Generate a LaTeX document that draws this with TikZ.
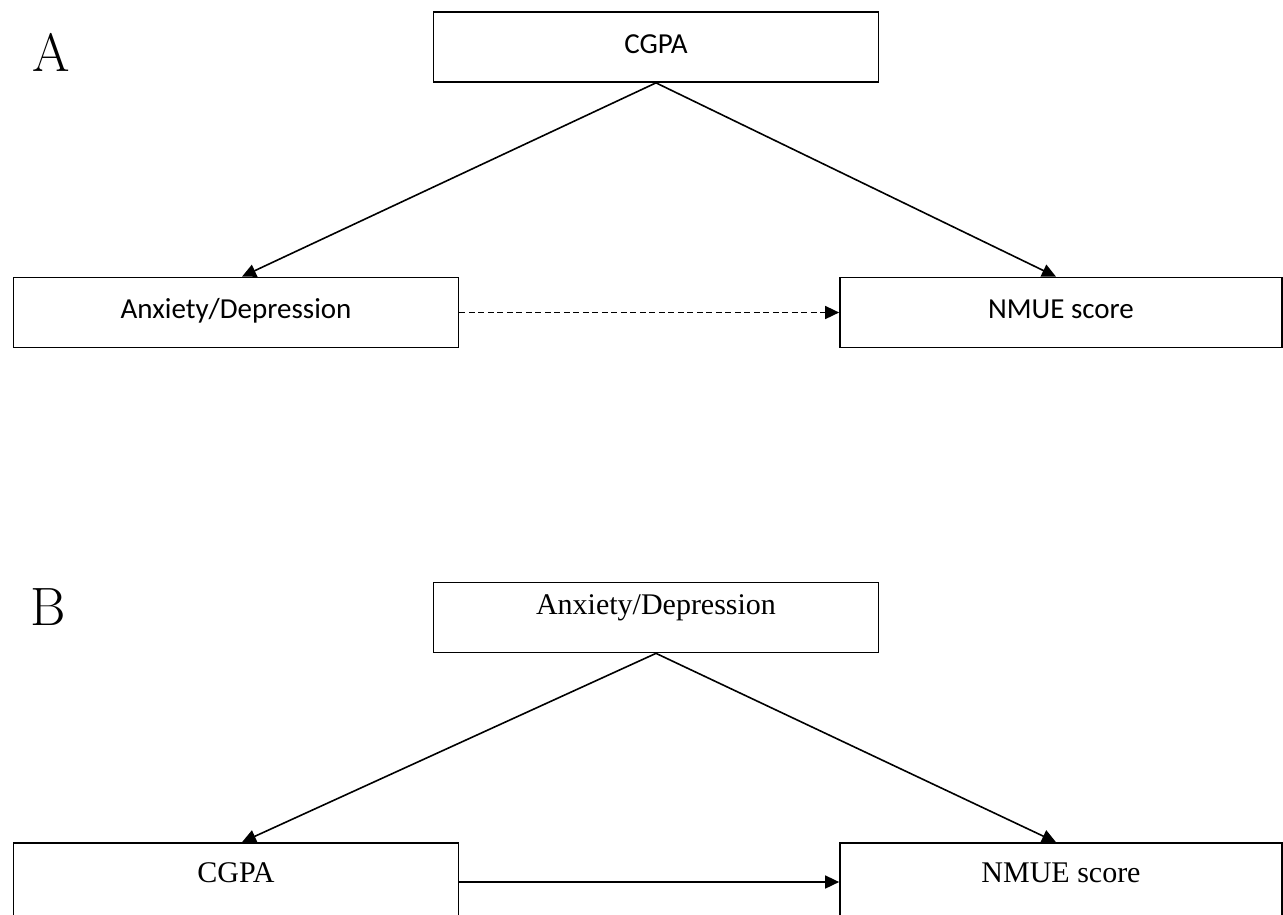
\documentclass[tikz,border=0pt]{standalone}
\usepackage{fontspec}
\usetikzlibrary{arrows.meta}
\newfontfamily\boxsans{Carlito}
\newfontfamily\boxserif{Liberation Serif}

\begin{document}
\begin{tikzpicture}[
    x=1pt, y=-1pt,
    >={Triangle[length=14pt, width=13pt]},
    % Define styles for the elements
    panel label/.style={
        font=\fontsize{54}{56}\selectfont,
        inner sep=0pt
    },
    var box/.style={
        rectangle,
        draw=black,
        line width=1.7pt,
        minimum width=445pt,
        minimum height=70pt,
        inner sep=0pt
    },
    sans box/.style={
        var box,
        font=\boxsans\fontsize{29}{31}\selectfont,
        text height=20pt,
        text depth=8pt
    },
    serif box/.style={
        var box,
        font=\boxserif\fontsize{30}{32}\selectfont,
        text height=21pt,
        text depth=27pt
    },
    path line/.style={
        ->,
        line width=1.6pt
    }
]
    \useasboundingbox (0,0) rectangle (1283,914);

    % --- Panel A ---
    \node[panel label] (labelA) at (51,52) {A};
    \node[sans box] (cgpaA) at (656,47) {CGPA};
    \node[sans box] (anxA) at (236,312.5) {Anxiety/Depression};
    \node[sans box, minimum width=442pt] (nmueA) at (1061,312.5) {NMUE score};

    \draw[path line] (cgpaA.south) -- ([xshift=6pt]anxA.north);
    \draw[path line] (cgpaA.south) -- ([xshift=-5pt]nmueA.north);
    % Dashed: indirect path
    \draw[path line, dash pattern=on 6pt off 3.5pt] (anxA.east) -- (nmueA.west);

    % --- Panel B ---
    \node[panel label] (labelB) at (48,607) {B};
    \node[serif box] (anxB) at (656,617.5) {Anxiety/Depression};
    \node[serif box, minimum height=76pt, text depth=18pt] (cgpaB) at (236,881) {CGPA};
    \node[serif box, minimum height=76pt, text depth=18pt, minimum width=442pt] (nmueB) at (1061,881) {NMUE score};

    \draw[path line] (anxB.south) -- ([xshift=6pt]cgpaB.north);
    \draw[path line] (anxB.south) -- ([xshift=-5pt]nmueB.north);
    \draw[path line] ([yshift=-1pt]cgpaB.east) -- ([yshift=-1pt]nmueB.west);

\end{tikzpicture}
\end{document}
